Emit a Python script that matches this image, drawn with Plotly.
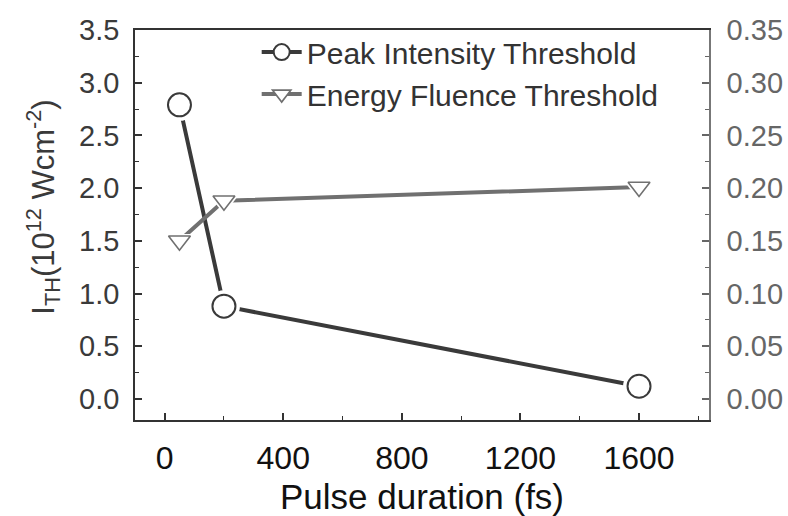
import plotly.graph_objects as go

# Data
pulse_fs = [50, 200, 1600]
peak_intensity = [2.79, 0.88, 0.12]      # 10^12 W/cm^2 (left axis)
energy_fluence = [0.150, 0.188, 0.201]   # right axis

x_ticks = [0, 400, 800, 1200, 1600]
y_ticks = [0.0, 0.5, 1.0, 1.5, 2.0, 2.5, 3.0, 3.5]
y2_ticks = [0.00, 0.05, 0.10, 0.15, 0.20, 0.25, 0.30, 0.35]

FONT = "Liberation Sans, Arial, sans-serif"
C_PEAK = "#3a3a3a"
C_ENERGY = "#707070"

fig = go.Figure()

# Peak intensity series (left axis)
fig.add_trace(go.Scatter(x=pulse_fs, y=peak_intensity, mode="lines",
                         line=dict(color=C_PEAK, width=4), showlegend=False, hoverinfo="skip"))
fig.add_trace(go.Scatter(x=pulse_fs, y=peak_intensity, mode="markers",
                         marker=dict(symbol="circle", size=32, color="white", line=dict(width=0)),
                         showlegend=False, hoverinfo="skip"))
fig.add_trace(go.Scatter(x=pulse_fs, y=peak_intensity, mode="markers",
                         marker=dict(symbol="circle", size=23, color="white",
                                     line=dict(color=C_PEAK, width=2)),
                         showlegend=False))

# Energy fluence series (right axis)
fig.add_trace(go.Scatter(x=pulse_fs, y=energy_fluence, mode="lines", yaxis="y2",
                         line=dict(color=C_ENERGY, width=4), showlegend=False, hoverinfo="skip"))
fig.add_trace(go.Scatter(x=pulse_fs, y=energy_fluence, mode="markers", yaxis="y2",
                         marker=dict(symbol="triangle-down", size=27, color="white", line=dict(width=0)),
                         showlegend=False, hoverinfo="skip"))
fig.add_trace(go.Scatter(x=pulse_fs, y=energy_fluence, mode="markers", yaxis="y2",
                         marker=dict(symbol="triangle-down", size=19, color="white",
                                     line=dict(color=C_ENERGY, width=1.6)),
                         showlegend=False))

# Legend entries
fig.add_trace(go.Scatter(x=[None], y=[None], mode="lines+markers", name="Peak Intensity Threshold",
                         line=dict(color=C_PEAK, width=4), legendgroup="a",
                         marker=dict(symbol="circle", size=22, color="white",
                                     line=dict(color=C_PEAK, width=2))))
fig.add_trace(go.Scatter(x=[None], y=[None], mode="lines+markers", name="Energy Fluence Threshold",
                         line=dict(color=C_ENERGY, width=4), legendgroup="b",
                         marker=dict(symbol="triangle-down", size=19, color="white",
                                     line=dict(color=C_ENERGY, width=1.6))))

fig.update_layout(
    width=788, height=516,
    margin=dict(l=135, r=79, t=30, b=96),
    paper_bgcolor="white", plot_bgcolor="white",
    font=dict(family=FONT, color="#333333"),
    showlegend=True,
    legend=dict(x=0.212, y=1.01, xanchor="left", yanchor="top",
                bgcolor="rgba(0,0,0,0)", borderwidth=0,
                font=dict(size=30), tracegroupgap=0,
                itemwidth=40),
    xaxis=dict(range=[-100, 1836], tickvals=x_ticks, ticktext=[str(v) for v in x_ticks],
               ticks="inside", ticklen=7, tickwidth=1.5, tickcolor="#333333",
               minor=dict(dtick=200, tick0=0, ticks="inside", ticklen=4, tickwidth=1.2, tickcolor="#333333"),
               showline=True, linecolor="#333333", linewidth=1.6, mirror=True,
               showgrid=False, zeroline=False, automargin=False,
               tickfont=dict(size=32, color="#111111"), ticklabelstandoff=9),
    yaxis=dict(range=[-0.2, 3.5], tickvals=y_ticks, ticktext=[f"{v:.1f}" for v in y_ticks],
               ticks="inside", ticklen=7, tickwidth=1.5, tickcolor="#333333",
               minor=dict(dtick=0.25, tick0=0, ticks="inside", ticklen=4, tickwidth=1.2, tickcolor="#333333"),
               showline=True, linecolor="#333333", linewidth=1.6, mirror=False,
               showgrid=False, zeroline=False, automargin=False,
               tickfont=dict(size=29, color="#3a3a3a"), ticklabelstandoff=8),
    yaxis2=dict(range=[-0.02, 0.35], tickvals=y2_ticks, ticktext=[f"{v:.2f}" for v in y2_ticks],
                overlaying="y", side="right",
                ticks="inside", ticklen=7, tickwidth=1.5, tickcolor="#666666",
                minor=dict(dtick=0.025, tick0=0, ticks="inside", ticklen=4, tickwidth=1.2, tickcolor="#666666"),
                showline=True, linecolor="#777777", linewidth=1.6,
                showgrid=False, zeroline=False, automargin=False,
                tickfont=dict(size=29, color="#666666"), ticklabelstandoff=10),
    annotations=[
        dict(text="Pulse duration (fs)", xref="paper", yref="paper",
             x=0.5, y=-0.197, xanchor="center", yanchor="middle", showarrow=False,
             font=dict(size=35, color="#111111", family=FONT)),
        dict(text="I<sub>TH</sub>(10<sup>12</sup> Wcm<sup>-2</sup>)", xref="paper", yref="paper",
             x=-0.161, y=0.546, xanchor="center", yanchor="middle", textangle=-90, showarrow=False,
             font=dict(size=31, color="#3a3a3a", family=FONT)),
    ],
)

fig.write_html("out.html")
